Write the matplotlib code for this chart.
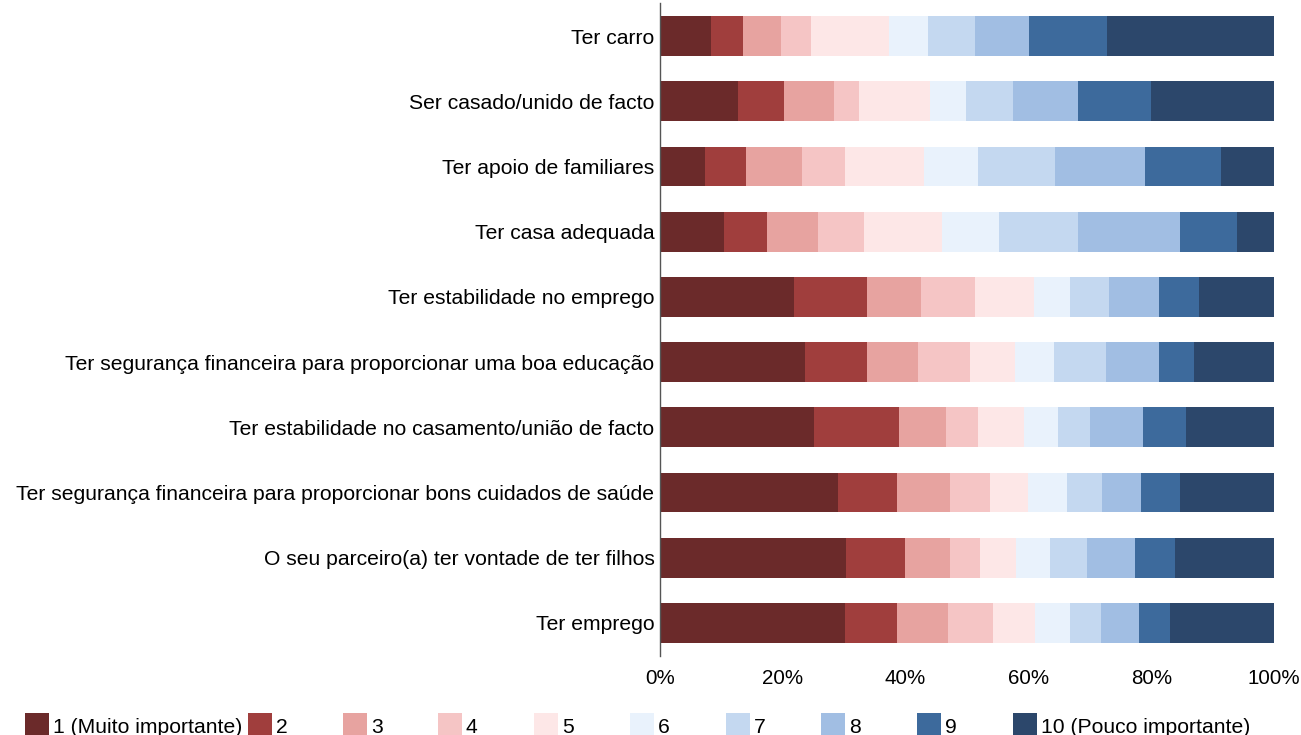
import numpy as np
import matplotlib.pyplot as plt
from matplotlib.patches import Rectangle

plt.rcParams['font.family'] = ['Liberation Sans', 'DejaVu Sans']

# categorias (de cima para baixo)
categorias = [
    "Ter carro",
    "Ser casado/unido de facto",
    "Ter apoio de familiares",
    "Ter casa adequada",
    "Ter estabilidade no emprego",
    "Ter segurança financeira para proporcionar uma boa educação",
    "Ter estabilidade no casamento/união de facto",
    "Ter segurança financeira para proporcionar bons cuidados de saúde",
    "O seu parceiro(a) ter vontade de ter filhos",
    "Ter emprego",
]

niveis = ["1 (Muito importante)", "2", "3", "4", "5", "6", "7", "8", "9",
          "10 (Pouco importante)"]

cores = ["#6B2A2A", "#A03E3D", "#E7A3A0", "#F5C5C5", "#FDE7E7",
         "#E9F2FC", "#C4D8F0", "#A1BEE3", "#3D6A9C", "#2C476B"]

# percentagens por nível (1..10) para cada categoria
ter_carro        = [8.3, 5.2, 6.2, 4.9, 12.7, 6.4, 7.6, 8.8, 12.7, 27.2]
ser_casado       = [12.7, 7.5, 8.1, 4.1, 11.6, 5.8, 7.7, 10.6, 11.9, 20.0]
apoio_familiares = [7.3, 6.7, 9.1, 7.0, 12.9, 8.8, 12.6, 14.6, 12.4, 8.6]
casa_adequada    = [10.4, 7.0, 8.3, 7.5, 12.7, 9.3, 12.8, 16.7, 9.2, 6.1]
estab_emprego    = [21.8, 11.9, 8.8, 8.8, 9.6, 5.9, 6.4, 8.0, 6.6, 12.2]
seg_educacao     = [23.6, 10.1, 8.3, 8.5, 7.3, 6.3, 8.5, 8.6, 5.8, 13.0]
estab_casamento  = [25.1, 13.8, 7.7, 5.2, 7.5, 5.5, 5.2, 8.6, 7.1, 14.3]
seg_saude        = [29.0, 9.6, 8.6, 6.5, 6.3, 6.3, 5.7, 6.4, 6.3, 15.3]
vontade_filhos   = [30.3, 9.6, 7.3, 4.9, 5.9, 5.5, 6.1, 7.7, 6.5, 16.2]
ter_emprego      = [30.1, 8.5, 8.3, 7.4, 6.8, 5.7, 5.1, 6.1, 5.0, 17.0]

valores = np.array([ter_carro, ser_casado, apoio_familiares, casa_adequada,
                    estab_emprego, seg_educacao, estab_casamento, seg_saude,
                    vontade_filhos, ter_emprego])
# normaliza para 100%
valores = valores / valores.sum(axis=1, keepdims=True) * 100

W, H = 1301, 735
fig = plt.figure(figsize=(W / 100, H / 100), dpi=100)
ax = fig.add_axes([660 / W, 1 - 655.6 / H, 614 / W, (655.6 - 3.4) / H])

y = np.arange(len(categorias))
esquerda = np.zeros(len(categorias))
for j in range(len(niveis)):
    ax.barh(y, valores[:, j], left=esquerda, height=0.61, color=cores[j],
            edgecolor='none')
    esquerda += valores[:, j]

ax.set_ylim(len(categorias) - 0.5, -0.5)
ax.set_xlim(0, 100)
ax.set_yticks(y)
ax.set_yticklabels(categorias, fontsize=15.2)
ax.set_xticks(np.arange(0, 101, 20))
ax.set_xticklabels([f"{v}%" for v in range(0, 101, 20)], fontsize=14.8)
ax.tick_params(axis='y', length=0, pad=4)
ax.tick_params(axis='x', length=0, pad=10)
for s in ['top', 'right', 'bottom']:
    ax.spines[s].set_visible(False)
ax.spines['left'].set_color('#555555')
ax.spines['left'].set_linewidth(1)

# legenda manual (uma linha, cortada em baixo)
leg_x = [25, 248, 343, 438, 534, 630, 726, 821, 917, 1013]
for j, nome in enumerate(niveis):
    fig.patches.append(Rectangle((leg_x[j] / W, 0), 24 / W, (H - 713) / H,
                                 transform=fig.transFigure,
                                 facecolor=cores[j], edgecolor='none'))
    fig.text((leg_x[j] + 28) / W, 1 - 733 / H, nome, fontsize=15.2,
             va='baseline', ha='left')

fig.savefig("out.png", dpi=100)
